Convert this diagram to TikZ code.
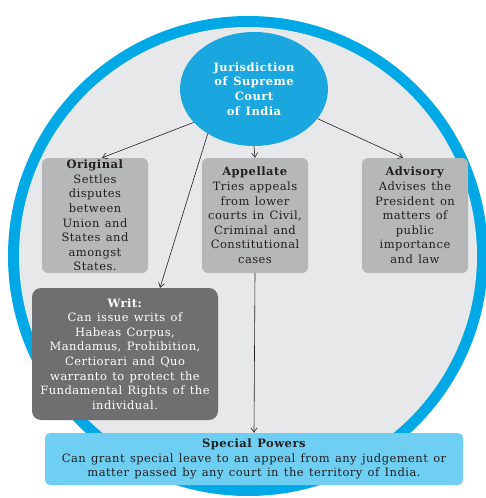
\documentclass[tikz,border=0pt]{standalone}
\usepackage{fontspec}
\setmainfont{DejaVu Serif}[LetterSpace=4, WordSpace=1.3]
\usetikzlibrary{arrows.meta,shapes.geometric}
\definecolor{ringblue}{HTML}{00A8E6}
\definecolor{hubblue}{HTML}{1AA7E0}
\definecolor{disc}{HTML}{E7E8E9}
\definecolor{boxgray}{HTML}{B6B7B9}
\definecolor{writgray}{HTML}{6E6F71}
\definecolor{specblue}{HTML}{6FCFF3}
\definecolor{ink}{HTML}{231F20}
\begin{document}
\begin{tikzpicture}[x=1pt,y=-1pt,
  txt/.style={font=\fontsize{11.5}{14.6}\selectfont, align=center, text=ink, inner sep=0pt},
  lightbox/.style={txt, fill=boxgray, rounded corners=6pt, minimum width=106pt, minimum height=115pt},
  darkbox/.style={txt, text=white, fill=writgray, rounded corners=9pt, minimum width=186pt, minimum height=132pt},
  specbox/.style={txt, fill=specblue, rounded corners=5pt, minimum width=418pt, minimum height=52pt},
  hubnode/.style={ellipse, fill=hubblue, text=white, inner sep=0pt, minimum width=148pt, minimum height=114pt,
    font=\bfseries\fontsize{11.5}{14.6}\selectfont, align=center},
  link/.style={draw=ink, line width=0.6pt, -{Straight Barb[length=4.5pt,width=6pt]}}
]
\useasboundingbox (0,0) rectangle (486,498);
% outer disc with its blue rim
\fill[ringblue] (248,256) circle (240);
\fill[disc] (248,256) circle (229);

% hub
\node[hubnode] (hub) at (254,89) {Jurisdiction\\of Supreme\\Court\\of India};

% jurisdiction boxes
\node[lightbox] (orig) at (95,215.5) {\textbf{Original}\\Settles\\disputes\\between\\Union and\\States and\\amongst\\States.};
\node[lightbox] (app) at (255,215.5) {\textbf{Appellate}\\Tries appeals\\from lower\\courts in Civil,\\Criminal and\\Constitutional\\cases};
\node[lightbox] (adv) at (415,215.5) {\textbf{Advisory}\\Advises the\\President on\\matters of\\public\\importance\\and law};
\node[darkbox] (writ) at (125,354) {\textbf{Writ:}\\Can issue writs of\\Habeas Corpus,\\Mandamus, Prohibition,\\Certiorari and Quo\\warranto to protect the\\Fundamental Rights of the\\individual.};
\node[specbox] (spec) at (254,459) {\textbf{Special Powers}\\Can grant special leave to an appeal from any judgement or\\matter passed by any court in the territory of India.};

% connectors
\draw[link] (hub.209) -- ([xshift=7pt]orig.north);
\draw[link] (hub.224) -- ([xshift=35pt]writ.north);
\draw[link] (hub.south) -- (app.north);
\draw[link] (hub.335) -- ([xshift=-12pt]adv.north);
\draw[link] (app.south) -- (spec.north);
\end{tikzpicture}
\end{document}
